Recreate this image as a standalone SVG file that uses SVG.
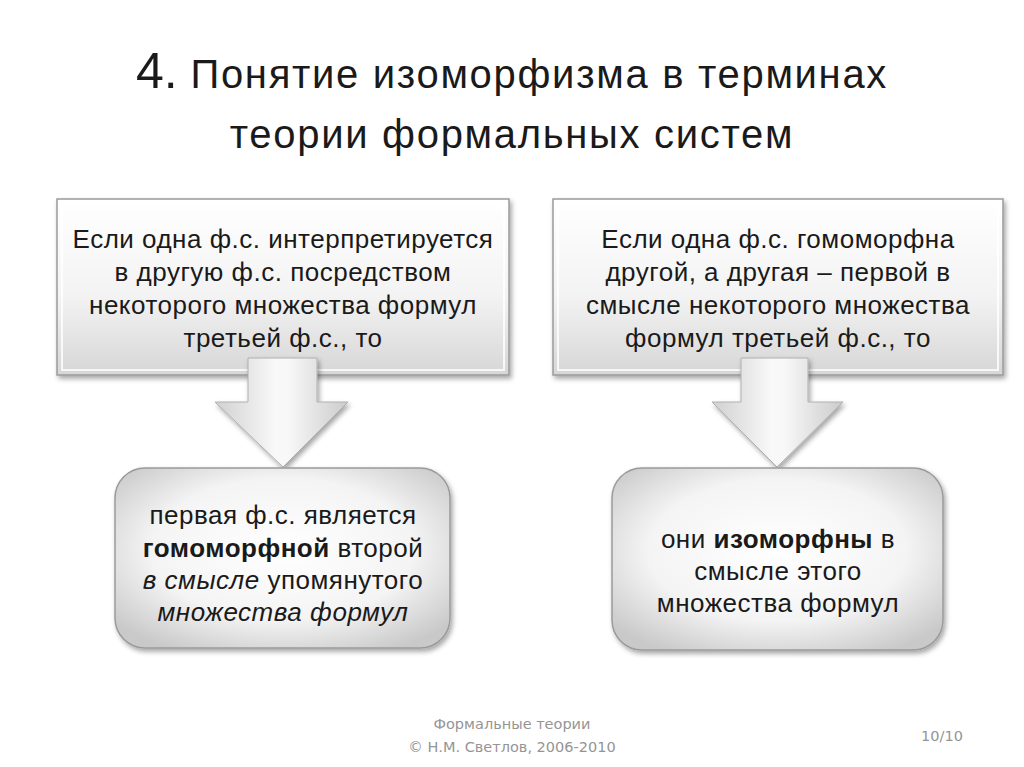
<svg xmlns="http://www.w3.org/2000/svg" width="1024" height="767" viewBox="0 0 1024 767">
<defs>
<style>
.title{font-family:"Liberation Sans",Arial,sans-serif;font-size:40px;letter-spacing:1.7px;fill:#1a1a1a;text-anchor:middle}
.t{font-family:"Liberation Sans",Arial,sans-serif;font-size:26px;letter-spacing:0.5px;fill:#1a1a1a;text-anchor:middle}
.foot{font-family:"DejaVu Sans",Tahoma,sans-serif;font-size:14.5px;fill:#959595;text-anchor:middle}
.box{stroke:#9a9a9a;stroke-width:1.5;filter:url(#sh)}
.arrow{fill:url(#ag);stroke:#b0b0b0;stroke-width:1;filter:url(#sh)}
</style>
<linearGradient id="tg" x1="0" y1="0" x2="0" y2="1">
<stop offset="0" stop-color="#ffffff"/>
<stop offset="0.55" stop-color="#f3f3f3"/>
<stop offset="1" stop-color="#d6d6d6"/>
</linearGradient>
<radialGradient id="bg" cx="0.5" cy="0.45" r="0.65">
<stop offset="0" stop-color="#ffffff"/>
<stop offset="0.6" stop-color="#f4f4f4"/>
<stop offset="1" stop-color="#c9c9c9"/>
</radialGradient>
<linearGradient id="ag" x1="0" y1="0" x2="1" y2="0">
<stop offset="0" stop-color="#d0d0d0"/>
<stop offset="0.45" stop-color="#f8f8f8"/>
<stop offset="0.55" stop-color="#f8f8f8"/>
<stop offset="1" stop-color="#cbcbcb"/>
</linearGradient>
<filter id="sh" x="-10%" y="-10%" width="125%" height="130%">
<feDropShadow dx="2" dy="3" stdDeviation="2.5" flood-color="#000" flood-opacity="0.35"/>
</filter>
</defs>
<rect width="1024" height="767" fill="#ffffff"/>
<g id="title">
<text class="title" x="512" y="88"><tspan font-size="50" letter-spacing="0">4.</tspan> Понятие изоморфизма в терминах</text>
<text class="title" x="512" y="148">теории формальных систем</text>
</g>
<g id="node-top-left">
<rect class="box" x="57" y="199" width="452" height="176" fill="url(#tg)"/>
<rect x="62" y="204" width="442" height="166" fill="none" stroke="#ffffff" stroke-width="2" opacity="0.8"/>
<text class="t" x="283" y="248">Если одна ф.с. интерпретируется</text>
<text class="t" x="283" y="281">в другую ф.с. посредством</text>
<text class="t" x="283" y="314">некоторого множества формул</text>
<text class="t" x="283" y="347">третьей ф.с., то</text>
</g>
<g id="node-top-right">
<rect class="box" x="553" y="199" width="450" height="176" fill="url(#tg)"/>
<rect x="558" y="204" width="440" height="166" fill="none" stroke="#ffffff" stroke-width="2" opacity="0.8"/>
<text class="t" x="778" y="248">Если одна ф.с. гомоморфна</text>
<text class="t" x="778" y="281">другой, а другая – первой в</text>
<text class="t" x="778" y="314">смысле некоторого множества</text>
<text class="t" x="778" y="347">формул третьей ф.с., то</text>
</g>
<g id="connectors">
<path class="arrow" d="M248,358 H317 V402 H348 L283,467 L215,402 H248 Z"/>
<path class="arrow" d="M741,358 H808 V402 H843 L777,467 L712,402 H741 Z"/>
</g>
<g id="node-bottom-left">
<rect class="box" x="115" y="468" width="335" height="180" rx="30" ry="30" fill="url(#bg)"/>
<text class="t" x="283" y="524">первая ф.с. является</text>
<text class="t" x="283" y="557"><tspan font-weight="bold">гомоморфной</tspan>  второй</text>
<text class="t" x="283" y="589"><tspan font-style="italic">в смысле</tspan> упомянутого</text>
<text class="t" x="283" y="621" font-style="italic">множества формул</text>
</g>
<g id="node-bottom-right">
<rect class="box" x="612" y="468" width="331" height="182" rx="30" ry="30" fill="url(#bg)"/>
<text class="t" x="778" y="548">они <tspan font-weight="bold">изоморфны</tspan>  в</text>
<text class="t" x="778" y="580">смысле этого</text>
<text class="t" x="778" y="612">множества формул</text>
</g>
<g id="footer">
<text class="foot" x="512" y="729">Формальные теории</text>
<text class="foot" x="512" y="752">© Н.М. Светлов, 2006-2010</text>
<text class="foot" x="942" y="741">10/10</text>
</g>
</svg>
